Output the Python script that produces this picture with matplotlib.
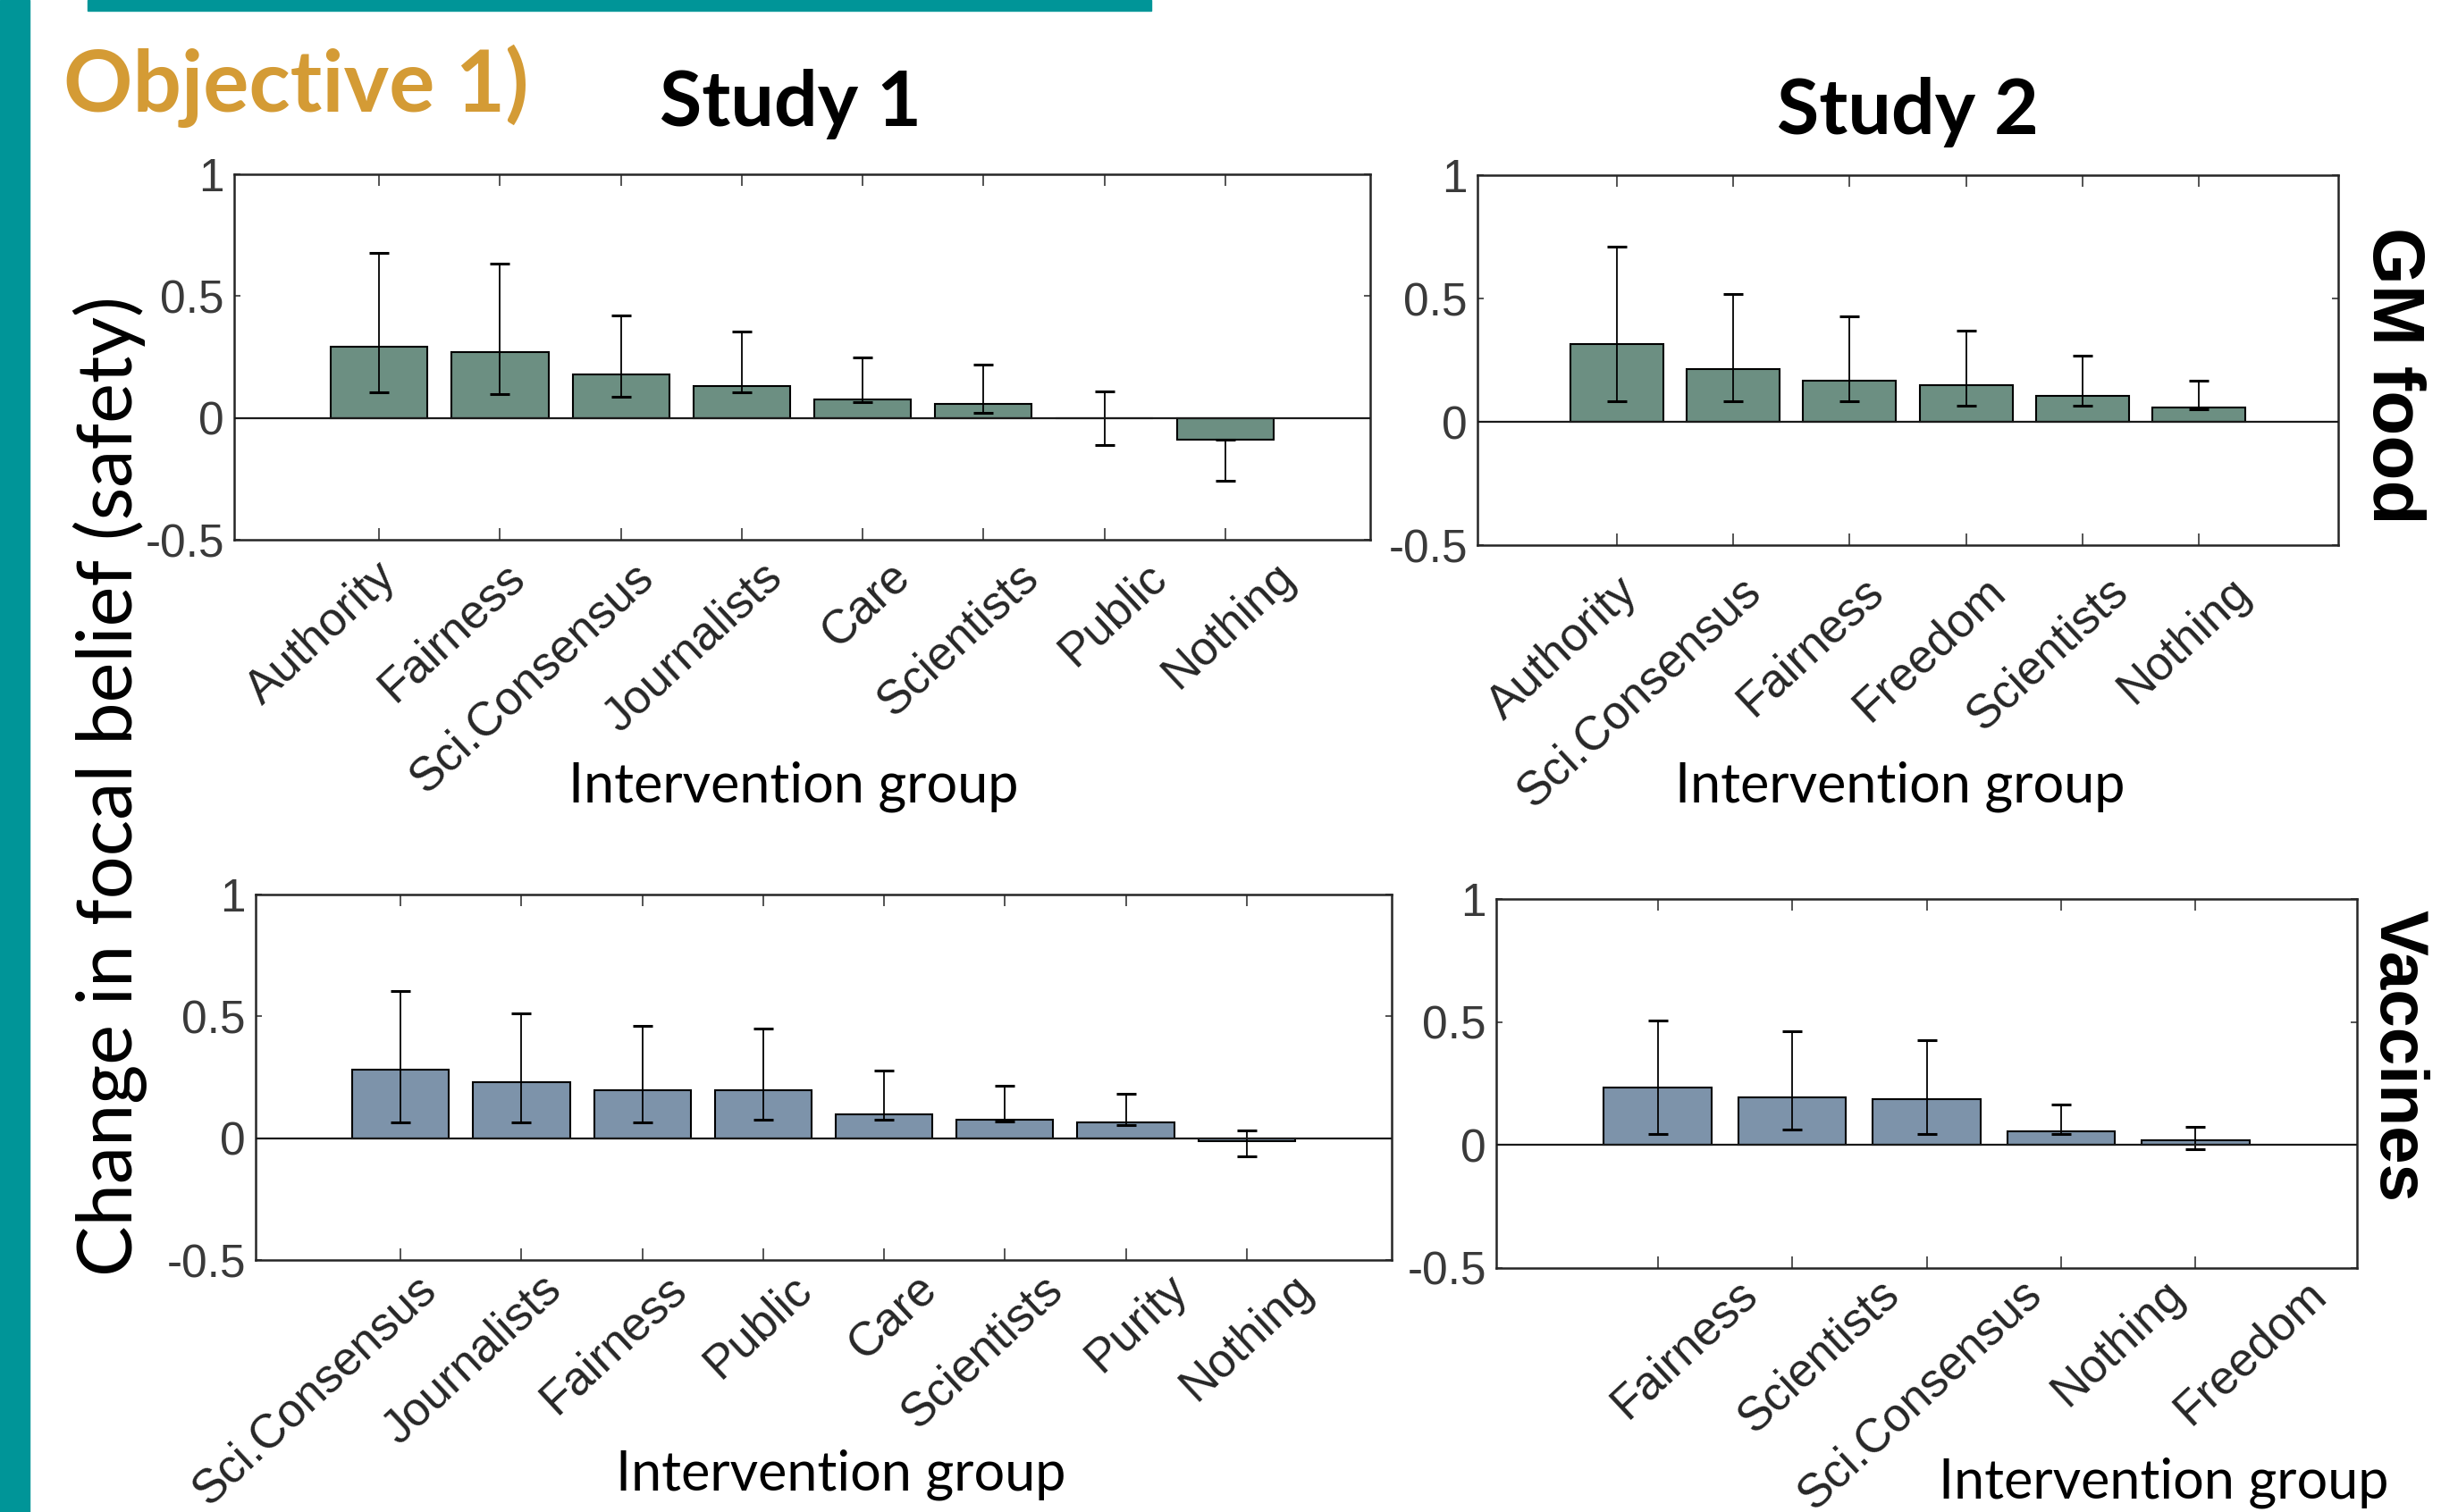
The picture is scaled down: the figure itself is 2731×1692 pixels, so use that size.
import numpy as np
import matplotlib
matplotlib.use("Agg")
import matplotlib.pyplot as plt
import matplotlib.transforms as mtransforms
from matplotlib.patches import Rectangle

plt.rcParams['font.family'] = 'Liberation Sans'

# Study 1, GM food
s1_gm_groups = ["Authority", "Fairness", "Sci.Consensus", "Journalists", "Care", "Scientists", "Public", "Nothing"]
s1_gm_mean = [0.293, 0.272, 0.177, 0.130, 0.077, 0.057, -0.002, -0.088]
s1_gm_lo = [0.106, 0.096, 0.085, 0.106, 0.063, 0.021, -0.110, -0.259]
s1_gm_hi = [0.677, 0.634, 0.421, 0.356, 0.249, 0.217, 0.110, -0.088]

# Study 2, GM food
s2_gm_groups = ["Authority", "Sci.Consensus", "Fairness", "Freedom", "Scientists", "Nothing"]
s2_gm_mean = [0.315, 0.213, 0.168, 0.150, 0.104, 0.058]
s2_gm_lo = [0.082, 0.082, 0.082, 0.064, 0.064, 0.050]
s2_gm_hi = [0.710, 0.517, 0.428, 0.370, 0.268, 0.167]

# Study 1, vaccines
s1_vac_groups = ["Sci.Consensus", "Journalists", "Fairness", "Public", "Care", "Scientists", "Purity", "Nothing"]
s1_vac_mean = [0.281, 0.228, 0.195, 0.196, 0.097, 0.077, 0.065, -0.012]
s1_vac_lo = [0.065, 0.065, 0.065, 0.074, 0.074, 0.067, 0.055, -0.074]
s1_vac_hi = [0.604, 0.514, 0.462, 0.451, 0.279, 0.216, 0.183, 0.032]

# Study 2, vaccines
s2_vac_groups = ["Fairness", "Scientists", "Sci.Consensus", "Nothing", "Freedom"]
s2_vac_mean = [0.232, 0.194, 0.185, 0.055, 0.018]
s2_vac_lo = [0.045, 0.063, 0.045, 0.045, -0.018]
s2_vac_hi = [0.507, 0.463, 0.427, 0.166, 0.074]

y_ticks = [-0.5, 0, 0.5, 1]
y_tick_labels = ["-0.5", "0", "0.5", "1"]

GM_COLOUR = "#6C8F82"
VAC_COLOUR = "#7D93AA"
TEAL = "#009598"
GOLD = "#D49B35"
AXIS_GREY = "#262626"

W, H = 2731, 1692
fig = plt.figure(figsize=(W / 100, H / 100), dpi=100)


def px_rect(left, top, right, bottom):
    # pixel box (from top-left) -> figure fraction
    return [left / W, 1 - bottom / H, (right - left) / W, (bottom - top) / H]


def draw_panel(rect, groups, mean, lo, hi, colour, label_pad, shift0, shift_step):
    ax = fig.add_axes(rect)
    x = np.arange(1, len(groups) + 1)
    mean = np.array(mean)
    yerr = [mean - np.array(lo), np.array(hi) - mean]
    ax.bar(x, mean, width=0.8, color=colour, edgecolor="black", linewidth=1.5, zorder=2)
    ax.errorbar(x, mean, yerr=yerr, fmt="none", ecolor="black", elinewidth=1.3,
                capsize=8, capthick=2.2, zorder=3)
    ax.axhline(0, color="#1a1a1a", lw=1.6, zorder=4)

    ax.set_xlim(-0.2, len(groups) + 1.2)
    ax.set_ylim(-0.5, 1)
    ax.set_yticks(y_ticks)
    ax.set_yticklabels(y_tick_labels)
    ax.set_xticks(x)
    ax.set_xticklabels(groups, rotation=43, ha="right", va="top", rotation_mode="anchor")

    ax.tick_params(axis="x", direction="in", top=True, length=9.5, width=1.1, pad=label_pad,
                   color=AXIS_GREY, labelcolor=AXIS_GREY, labelsize=38)
    ax.tick_params(axis="y", direction="in", right=True, length=5, width=1.1, pad=8,
                   color=AXIS_GREY, labelcolor="#3a3a3a", labelsize=37)
    for sp in ax.spines.values():
        sp.set_linewidth(1.8)
        sp.set_color(AXIS_GREY)

    # labels in the slide are spread a bit wider than the ticks: shift each one sideways (px)
    for i, lab in enumerate(ax.get_xticklabels()):
        dx = (shift0 + i * shift_step) / 100
        lab.set_transform(lab.get_transform() + mtransforms.ScaledTranslation(dx, 0, fig.dpi_scale_trans))
    return ax


draw_panel(px_rect(262, 195, 1533, 604), s1_gm_groups, s1_gm_mean, s1_gm_lo, s1_gm_hi,
           GM_COLOUR, 11.5, -5, 8.4)
draw_panel(px_rect(1653, 196, 2616, 610), s2_gm_groups, s2_gm_mean, s2_gm_lo, s2_gm_hi,
           GM_COLOUR, 19, -1, 7)
draw_panel(px_rect(286, 1001, 1557, 1410), s1_vac_groups, s1_vac_mean, s1_vac_lo, s1_vac_hi,
           VAC_COLOUR, 5, 15, 5)
draw_panel(px_rect(1674, 1006, 2637, 1419), s2_vac_groups, s2_vac_mean, s2_vac_lo, s2_vac_hi,
           VAC_COLOUR, 2.5, 87, 8.75)

# teal slide decorations
fig.patches.append(Rectangle((0, 0), 33 / W, 1, transform=fig.transFigure, color=TEAL, zorder=0))
fig.patches.append(Rectangle((98 / W, 1 - 12 / H), (1288 - 98) / W, 12 / H,
                             transform=fig.transFigure, color=TEAL, zorder=0))


def ftext(x, y, s, **kw):
    fig.text(x / W, 1 - y / H, s, **kw)


ftext(71, 125, "Objective 1)", family="Lato", weight="bold", fontsize=69, color=GOLD,
      ha="left", va="baseline")
ftext(885, 141, "Study 1", family="Lato", weight="bold", fontsize=62, color="black",
      ha="center", va="baseline")
ftext(2134, 150, "Study 2", family="Lato", weight="bold", fontsize=62, color="black",
      ha="center", va="baseline")

xlabel_kw = dict(family="Lato", fontsize=44, color="black", ha="center", va="baseline")
ftext(888, 897, "Intervention group", **xlabel_kw)
ftext(2126, 897, "Intervention group", **xlabel_kw)
ftext(941, 1667, "Intervention group", **xlabel_kw)
ftext(2421, 1676, "Intervention group", **xlabel_kw)

ftext(123, 880, "Change in focal belief (safety)", family="Lato", fontsize=61, color="black",
      rotation=90, ha="center", va="center")

ftext(2676, 420, "GM food", weight="bold", fontsize=59, color="black",
      rotation=-90, ha="center", va="center")
ftext(2682, 1182, "Vaccines", weight="bold", fontsize=55, color="black",
      rotation=-90, ha="center", va="center")

fig.savefig("out.png", dpi=100, facecolor="white")
